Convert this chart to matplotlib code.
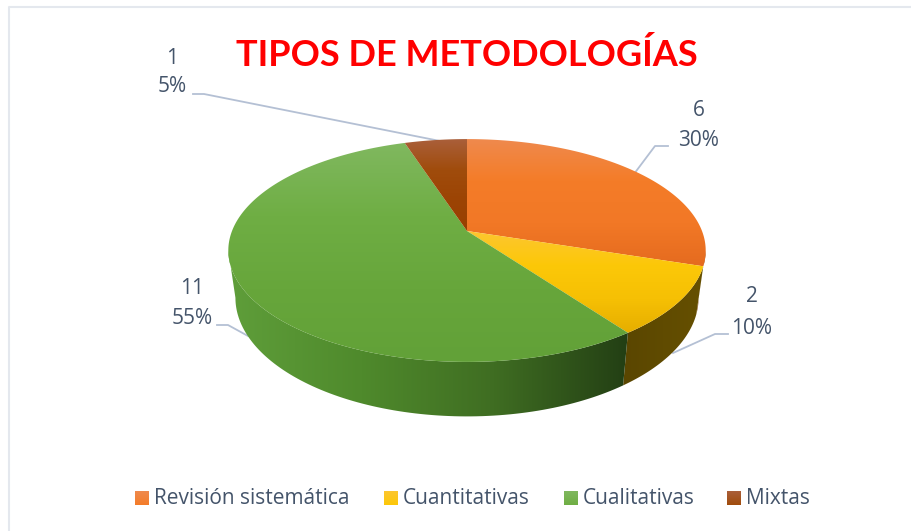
import numpy as np
import matplotlib
matplotlib.use("Agg")
import matplotlib.pyplot as plt
from matplotlib.colors import to_rgb
from matplotlib.patches import Polygon

# Data
categories = ["Revisión sistemática", "Cuantitativas", "Cualitativas", "Mixtas"]
values = [6, 2, 11, 1]
percents = [30, 10, 55, 5]

# Colours per slice: top stops and side stops
top_colors = [
    ["#ef8a4e", "#f47c28", "#f27826", "#e56b1f"],
    ["#fdc630", "#fcc808", "#f6c004", "#e6ae00"],
    ["#80b85f", "#6fae44", "#67a63b", "#62a138"],
    ["#aa5f3a", "#a04c0c", "#9c4404", "#993f00"],
]
side_colors = [
    ["#8a4a14", "#8a4a14"],
    ["#5a4600", "#665000"],
    ["#5f9e3a", "#4f8a2c", "#3f6d22", "#233f14"],
    ["#5c2c00", "#5c2c00"],
]
label_pos = [(699, 110, 140), (752, 297, 328), (192, 288, 318), (172, 59, 87)]
leaders = [
    [(668, 146), (655, 146), (634, 174)],
    [(728, 334), (715, 334), (673, 353)],
    [(217, 325), (228, 325), (248, 336)],
    [(193, 94), (204, 94), (440, 141)],
]
legend_x = [135, 384, 564, 727]

text_color = "#44546a"
line_color = "#b4c0d4"

# Pie geometry, perspective view of the disc
cx = 467
k = 0.175
top_a, top_b, top_c = 235, 108, 231
low_a, low_b, low_c = 228, 115, 277


def rim(phi, a, b, c):
    x = np.sin(phi)
    y = np.cos(phi)
    d = 1 + k * y
    return np.column_stack([cx + a * x / d, c - b * y / d])


def gradient(ax, poly, stops, horizontal=False):
    # fill a polygon with a linear gradient over its own bounds
    poly = np.asarray(poly, dtype=float)
    rgb = np.array([to_rgb(s) for s in stops])
    pos = np.linspace(0, 1, len(stops))
    t = np.linspace(0, 1, 256)
    img = np.column_stack([np.interp(t, pos, rgb[:, i]) for i in range(3)])
    if horizontal:
        img = img[np.newaxis, :, :]
        extent = (poly[:, 0].min(), poly[:, 0].max(), 531, 0)
    else:
        img = img[:, np.newaxis, :]
        extent = (0, 912, poly[:, 1].max(), poly[:, 1].min())
    im = ax.imshow(img, extent=extent, aspect="auto", zorder=3,
                   interpolation="bilinear", origin="upper")
    patch = Polygon(poly, closed=True, transform=ax.transData)
    im.set_clip_path(patch)


fig = plt.figure(figsize=(9.12, 5.31), dpi=100)
ax = fig.add_axes([0, 0, 1, 1])

# Chart frame
ax.plot([920, 9, 9], [7, 7, 540], color="#e4e8ee", lw=1.5, zorder=1)

# Slice angles from the values
total = sum(values)
edges = 2 * np.pi * np.cumsum([0] + values) / total
side_start = np.arccos(-k)
side_end = 2 * np.pi - side_start

# Sides
for i in range(len(values)):
    a0 = max(edges[i], side_start)
    a1 = min(edges[i + 1], side_end)
    if a1 <= a0:
        continue
    phi = np.linspace(a0, a1, 100)
    poly = np.vstack([rim(phi, top_a, top_b, top_c),
                      rim(phi[::-1], low_a, low_b, low_c)])
    gradient(ax, poly, side_colors[i], horizontal=True)

# Tops
apex = np.array([[cx, top_c]])
for i in range(len(values)):
    phi = np.linspace(edges[i], edges[i + 1], 200)
    poly = np.vstack([apex, rim(phi, top_a, top_b, top_c)])
    gradient(ax, poly, top_colors[i])

# Leader lines and data labels
for i in range(len(values)):
    pts = np.array(leaders[i])
    ax.plot(pts[:, 0], pts[:, 1], color=line_color, lw=1.3, zorder=2)
    x, y1, y2 = label_pos[i]
    ax.text(x, y1, str(values[i]), ha="center", va="center", fontsize=15,
            color=text_color, family="Open Sans")
    ax.text(x, y2, f"{percents[i]}%", ha="center", va="center", fontsize=15,
            color=text_color, family="Open Sans")

# Title
ax.text(467, 55, "TIPOS DE METODOLOGÍAS", ha="center", va="center",
        fontsize=26, fontweight="bold", color="#ff0000", family="Lato")

# Legend
for i, name in enumerate(categories):
    x = legend_x[i]
    square = [(x, 491), (x + 14, 491), (x + 14, 505), (x, 505)]
    gradient(ax, square, top_colors[i][:2])
    ax.text(x + 19, 498, name, ha="left", va="center", fontsize=15,
            color=text_color, family="Open Sans")

ax.set_xlim(0, 912)
ax.set_ylim(531, 0)
ax.axis("off")

fig.savefig("out.png", dpi=100)
